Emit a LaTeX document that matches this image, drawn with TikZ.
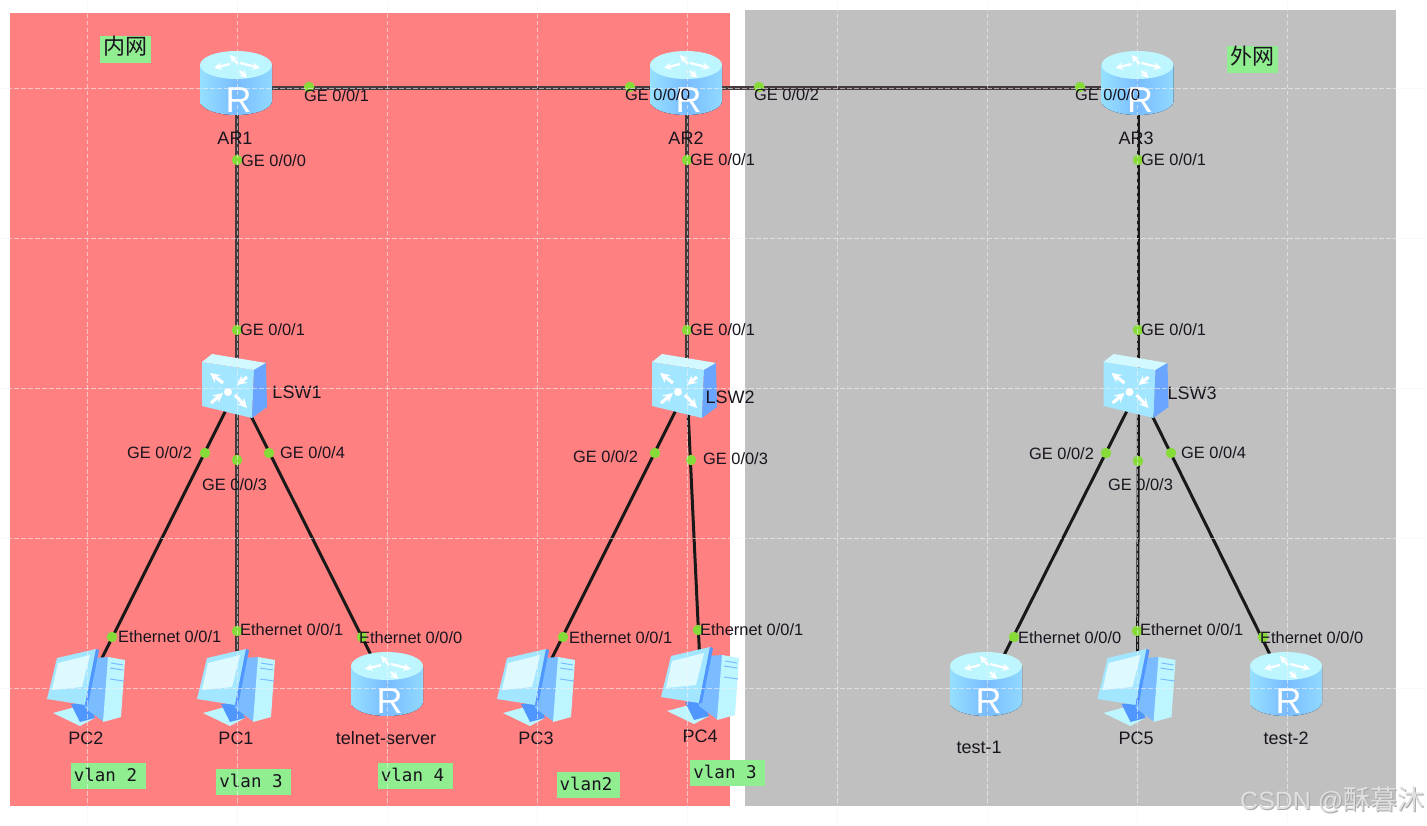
\documentclass[tikz,border=0pt]{standalone}
\usepackage{fontspec}
\usepackage{xcolor}
\setmainfont{Liberation Sans}
\newfontfamily\cjkfont{Noto Sans CJK SC}
\newfontfamily\vlanfont{DejaVu Sans Mono}
\definecolor{lanred}{RGB}{255,128,128}
\definecolor{wangray}{RGB}{192,192,192}
\definecolor{taggreen}{RGB}{144,238,144}
\definecolor{portgreen}{RGB}{134,219,56}
\definecolor{iconpale}{RGB}{190,246,255}
\definecolor{iconlight}{RGB}{150,224,255}
\definecolor{iconmid}{RGB}{122,188,255}
\definecolor{icondark}{RGB}{80,150,255}
\definecolor{labelink}{RGB}{25,20,30}
\definecolor{sharedlink}{RGB}{70,58,60}
\tikzset{
  routericon/.pic={
    \fill[left color=iconlight, right color=iconlight!80!iconmid, middle color=iconmid] (-37,-23) -- (-37,13) arc [start angle=180, end angle=360, x radius=36pt, y radius=14pt] -- (35,-23) -- cycle;
    \fill[iconpale] (-1,-23) ellipse [x radius=36pt, y radius=14pt];
    \draw[->, >=stealth, white, line width=2.3pt] (-7,-24) -- (-23,-20);
    \draw[->, >=stealth, white, line width=2.3pt] (3,-25) -- (23,-20);
    \draw[->, >=stealth, white, line width=2.3pt] (1,-24) -- (-7,-33);
    \draw[->, >=stealth, white, line width=2.3pt] (3,-17) -- (10,-10);
    \node[text=white, font=\fontsize{36}{36}\selectfont, inner sep=0pt] (-letter) at (1.5,12) {R};
  },
  switchicon/.pic={
    \fill[iconlight!70!iconpale] (-35,-26) -- (17,-18) -- (15,30) -- (-35,18) -- cycle;
    \fill[iconpale!70!white] (-35,-26) -- (-25,-34) -- (29,-25) -- (17,-18) -- cycle;
    \fill[icondark!85!white] (17,-18) -- (29,-25) -- (30,19) -- (15,30) -- cycle;
    \fill[white] (-9,4) circle (4pt);
    \draw[->, >=stealth, white, line width=3.2pt] (-14,-5) -- (-27,-15);
    \draw[->, >=stealth, white, line width=3.2pt] (10,-11) -- (0,-3);
    \draw[->, >=stealth, white, line width=3.2pt] (-2,7) -- (10,20);
    \draw[->, >=stealth, white, line width=3.2pt] (-26,15) -- (-14,5);
  },
  pcicon/.pic={
    \fill[iconpale] (-34,25) -- (-12,19) -- (8,30) -- (-7,38) -- cycle;
    \fill[icondark] (-16,16) -- (2,14) -- (8,30) -- (-7,34) -- cycle;
    \fill[iconmid] (5,-30) -- (22,-31) -- (17,34) -- (-2,20) -- cycle;
    \fill[iconpale] (21,-31) -- (38,-28) -- (34,29) -- (16,34) -- cycle;
    \draw[iconmid, line width=1pt] (24,-25) -- (36,-23) (23,-20) -- (36,-18) (23,-9) -- (37,-7);
    \fill[iconlight!70!iconpale] (-30,-30) -- (9,-39) -- (-2,17) -- (-40,11) -- cycle;
    \fill[iconpale!50!white] (-29,-25) -- (3,-33) -- (-5,-1) -- (-35,2) -- cycle;
    \fill[icondark] (9,-39) -- (12,-38) -- (1,17) -- (-2,17) -- cycle;
  },
}
\begin{document}
\begin{tikzpicture}[x=1pt, y=-1pt,
    every node/.style={font=\fontsize{16.4}{18}\selectfont, text=labelink},
    device/.style={inner sep=0pt, minimum size=30pt},
    link/.style={black!90, line width=3pt},
    gridlink/.style={sharedlink, line width=4.4pt},
    portdot/.style={circle, fill=portgreen, inner sep=0pt, minimum size=10.5pt},
    portname/.style={anchor=west, inner sep=0pt},
    devname/.style={inner sep=0pt, font=\fontsize{18}{20}\selectfont},
    nettag/.style={fill=taggreen, inner sep=0pt, minimum width=51pt, minimum height=27pt, text height=17pt, text depth=7pt, font=\cjkfont\fontsize{22}{24}\selectfont},
    vlantag/.style={fill=taggreen, inner sep=0pt, minimum width=75pt, minimum height=26pt, text height=13pt, text depth=3pt, font=\vlanfont\fontsize{17.5}{20}\selectfont, execute at end node={\hspace{5pt}}},
    gridline/.style={white!90!gray, opacity=0.6, line width=0.9pt, dash pattern=on 4.5pt off 2.5pt},
  ]
  \useasboundingbox (0,0) rectangle (1427,826);
  \fill[lanred] (10,13) rectangle (730,806);
  \fill[wangray] (745,10) rectangle (1396,806);

  % devices
  \node[device] (ar1) at (237,88) {};
  \node[device] (ar2) at (687,88) {};
  \node[device] (ar3) at (1138.5,88) {};
  \node[device] (lsw1) at (237,388) {};
  \node[device] (lsw2) at (687,388) {};
  \node[device] (lsw3) at (1138.5,388) {};
  \node[device] (pc2) at (87,688) {};
  \node[device] (pc1) at (237,688) {};
  \node[device] (telnet) at (388,689) {};
  \node[device] (pc3) at (537,688) {};
  \node[device] (pc4) at (701,686) {};
  \node[device] (test1) at (987,689) {};
  \node[device] (pc5) at (1137.5,688) {};
  \node[device] (test2) at (1287,689) {};

  % links
  \draw[gridlink] (ar1) -- (ar2);
  \draw[gridlink] (ar2) -- (ar3);
  \draw[gridlink] (ar1) -- (lsw1);
  \draw[gridlink] (ar2) -- (lsw2);
  \draw[link] (ar3) -- (lsw3);
  \draw[link] (lsw1) -- (pc2);
  \draw[gridlink] (lsw1) -- (pc1);
  \draw[link] (lsw1) -- (telnet);
  \draw[link] (lsw2) -- (pc3);
  \draw[link] (lsw2) -- (pc4);
  \draw[link] (lsw3) -- (test1);
  \draw[link] (lsw3) -- (pc5);
  \draw[link] (lsw3) -- (test2);

  % icons
  \foreach \dev in {ar1,ar2,ar3,telnet,test1,test2}
    \pic (icon\dev) at (\dev) {routericon};
  \foreach \dev in {lsw1,lsw2,lsw3}
    \pic (icon\dev) at (\dev) {switchicon};
  \foreach \dev in {pc1,pc2,pc3,pc4,pc5}
    \pic (icon\dev) at (\dev) {pcicon};

  % ports
  \foreach \px/\py/\lx/\ly/\txt [count=\i] in {
      309/87/304/96/{GE 0/0/1}, 237/160/241/161/{GE 0/0/0}, 237/330/240/330/{GE 0/0/1},
      205/453/127/453/{GE 0/0/2}, 237/460/202/485/{GE 0/0/3}, 269/453/280/453/{GE 0/0/4},
      112/637/118/637/{Ethernet 0/0/1}, 237/631/240/630/{Ethernet 0/0/1}, 362/637/359/638/{Ethernet 0/0/0},
      630/87/625/95/{GE 0/0/0}, 759/87/754/95/{GE 0/0/2}, 687/160/690/160/{GE 0/0/1},
      687/330/690/330/{GE 0/0/1}, 655/453/573/457/{GE 0/0/2}, 691/460/703/459/{GE 0/0/3},
      563/637/569/638/{Ethernet 0/0/1}, 698/630/700/630/{Ethernet 0/0/1},
      1080/87/1075/95/{GE 0/0/0}, 1138/160/1141/160/{GE 0/0/1}, 1138/330/1141/330/{GE 0/0/1},
      1106/453/1029/454/{GE 0/0/2}, 1138/461/1108/485/{GE 0/0/3}, 1171/453/1181/453/{GE 0/0/4},
      1014/637/1018/638/{Ethernet 0/0/0}, 1137/631/1140/630/{Ethernet 0/0/1}, 1263/637/1260/638/{Ethernet 0/0/0}} {
    \node[portdot] (port\i) at (\px,\py) {};
    \node[portname] (portname\i) at (\lx,\ly) {\txt};
  }

  % device names
  \node[devname] (ar1name) at (235,138) {AR1};
  \node[devname] (ar2name) at (686,138) {AR2};
  \node[devname] (ar3name) at (1136,138) {AR3};
  \node[devname] (lsw1name) at (297,392) {LSW1};
  \node[devname] (lsw2name) at (730,397) {LSW2};
  \node[devname] (lsw3name) at (1192,393) {LSW3};
  \node[devname] (pc2name) at (86,738) {PC2};
  \node[devname] (pc1name) at (236,738) {PC1};
  \node[devname] (telnetname) at (386,738) {telnet-server};
  \node[devname] (pc3name) at (536,738) {PC3};
  \node[devname] (pc4name) at (700,736) {PC4};
  \node[devname] (test1name) at (979,747) {test-1};
  \node[devname] (pc5name) at (1136,738) {PC5};
  \node[devname] (test2name) at (1286,738) {test-2};

  % tags
  \node[nettag] (lantag) at (125.5,49.5) {内网};
  \node[nettag] (wantag) at (1252.5,59.5) {外网};
  \node[vlantag] (vlana) at (108,776) {vlan 2};
  \node[vlantag] (vlanb) at (253.5,782) {vlan 3};
  \node[vlantag] (vlanc) at (415,776) {vlan 4};
  \node[vlantag, minimum width=63pt] (vland) at (588.5,785) {vlan2};
  \node[vlantag] (vlane) at (727.5,773) {vlan 3};

  % grid
  \foreach \gx in {87,237,387,537,687,837,987,1137,1287}
    \draw[gridline] (\gx,0) -- (\gx,826);
  \foreach \gy in {88,238,388,538,688}
    \draw[gridline] (0,\gy) -- (1427,\gy);

  % watermark
  \node[anchor=west, inner sep=0pt, text=gray!70, font=\fontsize{25}{28}\selectfont] (markshadow) at (1240.8,800.8) {CSDN @{\cjkfont\fontsize{27}{28}\selectfont 酥暮沐}};
  \node[anchor=west, inner sep=0pt, text=black!12, font=\fontsize{25}{28}\selectfont] (mark) at (1240,800) {CSDN @{\cjkfont\fontsize{27}{28}\selectfont 酥暮沐}};
\end{tikzpicture}
\end{document}
